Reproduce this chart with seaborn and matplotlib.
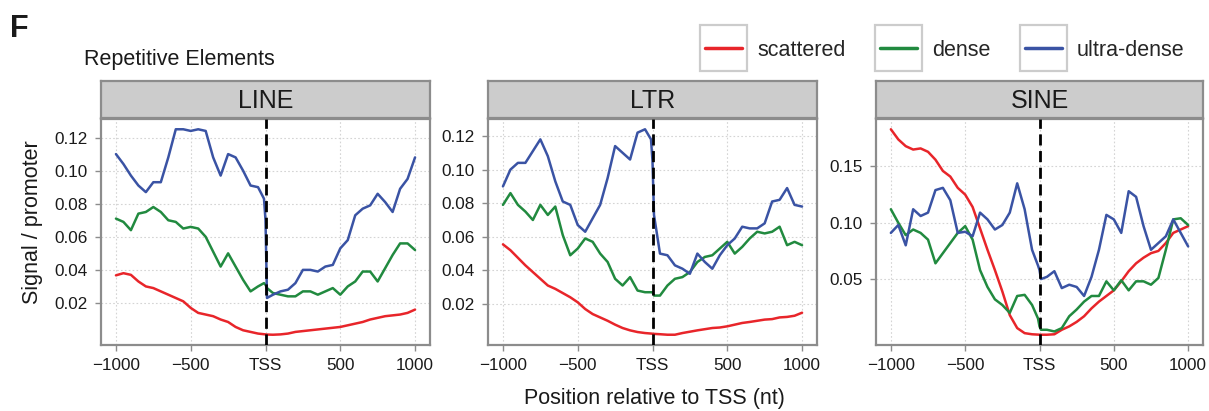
import matplotlib
matplotlib.use("Agg")
import matplotlib.pyplot as plt
from matplotlib.patches import Rectangle
import seaborn as sns
import pandas as pd

sns.set_style("white")
plt.rcParams['font.family'] = ['Liberation Sans', 'DejaVu Sans']

# positions (nt) relative to TSS, with a few extra points around the TSS
POS = list(range(-1000, 0, 50)) + [-10, 0, 10] + list(range(50, 1001, 50))

ELEMENTS = ["LINE", "LTR", "SINE"]
CLASSES = ["scattered", "dense", "ultra-dense"]
COLORS = ["#e8252a", "#218a3f", "#3a53a4"]

line_scattered = [0.0367, 0.038, 0.037, 0.033, 0.030, 0.029, 0.027, 0.025, 0.023, 0.021,
                  0.017, 0.014, 0.013, 0.012, 0.010, 0.0085, 0.0055, 0.0035, 0.0025, 0.0015,
                  0.0011, 0.0010, 0.0009,
                  0.0008, 0.001, 0.0015, 0.0025, 0.003, 0.0035, 0.004, 0.0045, 0.005, 0.0055,
                  0.0065, 0.0075, 0.0085, 0.010, 0.011, 0.012, 0.0125, 0.013, 0.014, 0.016]
line_dense = [0.071, 0.069, 0.064, 0.074, 0.075, 0.078, 0.075, 0.070, 0.069, 0.065,
              0.066, 0.065, 0.060, 0.051, 0.042, 0.050, 0.042, 0.034, 0.027, 0.030,
              0.032, 0.031, 0.029,
              0.026, 0.025, 0.024, 0.024, 0.027, 0.027, 0.025, 0.027, 0.029, 0.025,
              0.030, 0.033, 0.039, 0.039, 0.033, 0.041, 0.049, 0.056, 0.056, 0.052]
line_ultra = [0.110, 0.104, 0.097, 0.091, 0.087, 0.093, 0.093, 0.108, 0.125, 0.125,
              0.124, 0.125, 0.124, 0.108, 0.097, 0.110, 0.108, 0.100, 0.091, 0.090,
              0.083, 0.070, 0.023,
              0.025, 0.027, 0.028, 0.032, 0.040, 0.040, 0.039, 0.042, 0.043, 0.053,
              0.058, 0.073, 0.077, 0.079, 0.086, 0.081, 0.075, 0.089, 0.095, 0.108]

ltr_scattered = [0.0555, 0.052, 0.0475, 0.043, 0.039, 0.035, 0.031, 0.029, 0.0265, 0.024,
                 0.021, 0.017, 0.014, 0.012, 0.010, 0.0077, 0.0057, 0.0043, 0.0033, 0.0027,
                 0.0024, 0.0023, 0.0022,
                 0.002, 0.0017, 0.0017, 0.0027, 0.0035, 0.0043, 0.005, 0.0057, 0.006, 0.0067,
                 0.0077, 0.0087, 0.0093, 0.010, 0.0107, 0.011, 0.012, 0.0123, 0.013, 0.0148]
ltr_dense = [0.079, 0.086, 0.079, 0.075, 0.070, 0.079, 0.073, 0.078, 0.061, 0.049,
             0.053, 0.059, 0.057, 0.050, 0.045, 0.035, 0.031, 0.036, 0.028, 0.027,
             0.027, 0.027, 0.025,
             0.025, 0.031, 0.035, 0.036, 0.039, 0.045, 0.048, 0.049, 0.053, 0.057,
             0.050, 0.054, 0.059, 0.063, 0.062, 0.063, 0.066, 0.055, 0.057, 0.055]
ltr_ultra = [0.090, 0.100, 0.104, 0.104, 0.111, 0.118, 0.108, 0.093, 0.081, 0.079,
             0.067, 0.063, 0.071, 0.079, 0.095, 0.114, 0.110, 0.106, 0.122, 0.124,
             0.118, 0.105, 0.073,
             0.050, 0.049, 0.043, 0.041, 0.038, 0.050, 0.045, 0.041, 0.049, 0.055,
             0.059, 0.066, 0.065, 0.065, 0.068, 0.081, 0.082, 0.089, 0.079, 0.078]

sine_scattered = [0.183, 0.174, 0.168, 0.165, 0.166, 0.163, 0.156, 0.146, 0.141, 0.131,
                  0.125, 0.114, 0.095, 0.076, 0.058, 0.039, 0.018, 0.0065, 0.002, 0.001,
                  0.0007, 0.0006, 0.0006,
                  0.0006, 0.001, 0.005, 0.008, 0.012, 0.017, 0.024, 0.030, 0.035, 0.040,
                  0.048, 0.057, 0.064, 0.069, 0.073, 0.075, 0.082, 0.091, 0.094, 0.097]
sine_dense = [0.112, 0.100, 0.089, 0.094, 0.091, 0.085, 0.064, 0.073, 0.082, 0.091,
              0.097, 0.085, 0.058, 0.043, 0.032, 0.027, 0.020, 0.035, 0.036, 0.027,
              0.015, 0.008, 0.005,
              0.005, 0.0035, 0.0065, 0.017, 0.023, 0.030, 0.035, 0.035, 0.048, 0.040,
              0.049, 0.040, 0.048, 0.048, 0.045, 0.051, 0.076, 0.103, 0.104, 0.098]
sine_ultra = [0.091, 0.098, 0.080, 0.112, 0.106, 0.109, 0.129, 0.131, 0.120, 0.091,
              0.092, 0.088, 0.109, 0.103, 0.094, 0.098, 0.109, 0.135, 0.112, 0.076,
              0.062, 0.058, 0.050,
              0.052, 0.057, 0.042, 0.045, 0.043, 0.035, 0.052, 0.076, 0.107, 0.103,
              0.091, 0.128, 0.123, 0.097, 0.076, 0.082, 0.088, 0.103, 0.091, 0.079]

SERIES = {
    "LINE": [line_scattered, line_dense, line_ultra],
    "LTR": [ltr_scattered, ltr_dense, ltr_ultra],
    "SINE": [sine_scattered, sine_dense, sine_ultra],
}
YTICKS = {
    "LINE": [0.02, 0.04, 0.06, 0.08, 0.10, 0.12],
    "LTR": [0.02, 0.04, 0.06, 0.08, 0.10, 0.12],
    "SINE": [0.05, 0.10, 0.15],
}

rows = []
for elem in ELEMENTS:
    for cls, vals in zip(CLASSES, SERIES[elem]):
        for p, v in zip(POS, vals):
            rows.append({"element": elem, "class": cls, "pos": p, "signal": v})
df = pd.DataFrame(rows)

W, H = 1209, 411
fig = plt.figure(figsize=(W / 100, H / 100), dpi=100)

def px_box(left, top, right, bottom):
    return [left / W, 1 - bottom / H, (right - left) / W, (bottom - top) / H]

panel_x = [(101, 430), (488, 817), (876, 1203)]
axes = []
for (l, r), elem in zip(panel_x, ELEMENTS):
    ax = fig.add_axes(px_box(l, 119, r, 345))
    sub = df[df["element"] == elem]
    sns.lineplot(data=sub, x="pos", y="signal", hue="class", hue_order=CLASSES,
                 palette=COLORS, linewidth=1.8, estimator=None, legend=False, ax=ax)
    ax.axvline(0, color="black", lw=2, ls=(0, (4, 2)), zorder=5)

    lo, hi = sub["signal"].min(), sub["signal"].max()
    pad = 0.05 * (hi - lo)
    ax.set_ylim(lo - pad, hi + pad)
    ax.set_xlim(-1100, 1100)
    ax.set_xticks([-1000, -500, 0, 500, 1000])
    ax.set_xticklabels(["\u22121000", "\u2212500", "TSS", "500", "1000"])
    ax.set_yticks(YTICKS[elem])
    ax.set_yticklabels([f"{t:.2f}" for t in YTICKS[elem]])
    ax.set_xlabel("")
    ax.set_ylabel("")
    ax.grid(True, color="#d4d4d4", ls=(0, (1.5, 2)), lw=0.8)
    ax.tick_params(axis="both", length=4, width=1, color="#8c8c8c",
                   labelsize=12.3, labelcolor="#1a1a1a", pad=5.5, direction="out",
                   left=True, bottom=True)
    for s in ax.spines.values():
        s.set_color("#8c8c8c")
        s.set_linewidth(1.6)

    # facet strip
    sax = fig.add_axes(px_box(l, 81, r, 118))
    sax.set_facecolor("#cccccc")
    sax.set_xticks([])
    sax.set_yticks([])
    for s in sax.spines.values():
        s.set_color("#8c8c8c")
        s.set_linewidth(1.6)
    sax.text(0.5, 0.46, elem, ha="center", va="center", fontsize=18, color="#1a1a1a",
             transform=sax.transAxes)
    axes.append(ax)

fig.text(654 / W, 1 - 398 / H, "Position relative to TSS (nt)", ha="center", va="center",
         fontsize=15.5, color="#1a1a1a")
fig.text(33 / W, 1 - 222 / H, "Signal / promoter", ha="center", va="center",
         rotation=90, fontsize=15.5, color="#1a1a1a")
fig.text(84 / W, 1 - 60 / H, "Repetitive Elements", ha="left", va="center",
         fontsize=15.5, color="#1a1a1a")
fig.text(10 / W, 1 - 29 / H, "F", ha="left", va="center", fontsize=22,
         fontweight="bold", color="#1a1a1a")

handles = axes[0].get_lines()[:3]
leg = fig.legend(handles, CLASSES, loc="center left", bbox_to_anchor=(705 / W, 1 - 50 / H),
                 ncol=3, frameon=False, fontsize=15.5, handlelength=1.72,
                 handletextpad=0.7, columnspacing=1.6, borderpad=0, borderaxespad=0)
for h in leg.legend_handles:
    h.set_linewidth(2.5)

# grey key boxes round each legend line, as in the original
fig.canvas.draw()
renderer = fig.canvas.get_renderer()
for h in leg.legend_handles:
    bb = h.get_window_extent(renderer)
    cx, cy = (bb.x0 + bb.x1) / 2, (bb.y0 + bb.y1) / 2
    bw, bh = bb.width + 10, 46
    fig.patches.append(Rectangle(((cx - bw / 2) / W, (cy - bh / 2) / H), bw / W, bh / H,
                                 transform=fig.transFigure, fill=False,
                                 edgecolor="#cccccc", lw=1.6))

fig.savefig("out.png", dpi=100)
